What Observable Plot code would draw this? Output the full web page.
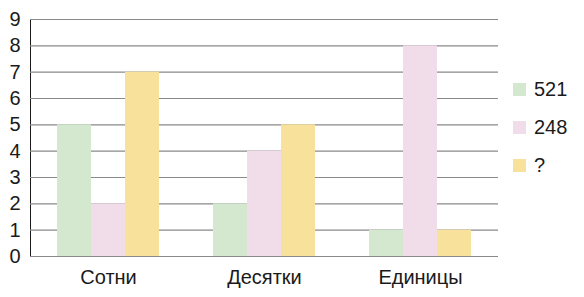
<!DOCTYPE html>
<html>
<head>
<meta charset="utf-8">
<script src="https://cdn.jsdelivr.net/npm/d3@7"></script>
<script src="https://cdn.jsdelivr.net/npm/@observablehq/plot@0.6"></script>
<style>
  html, body { margin: 0; padding: 0; background: #fff; }
  #wrap { position: relative; width: 584px; height: 297px; font-family: "Liberation Sans", Arial, sans-serif; }
  #chart { position: absolute; left: 0; top: 0; }
  #legend { position: absolute; left: 513px; top: 70px; }
  .lg-swatches { margin: 0 !important; font-family: "Liberation Sans", Arial, sans-serif !important; font-size: 20px !important; color: #1a1a1a !important; }
  .lg-swatch { display: flex !important; align-items: center !important; height: 38px !important; margin: 0 !important; padding: 0 !important; }
  .lg-swatch svg { margin-right: 8px !important; }
</style>
</head>
<body>
<div id="wrap"><div id="chart"></div><div id="legend"></div></div>
<script>
const groups = ["Сотни", "Десятки", "Единицы"];
const series = ["521", "248", "?"];
const colors = ["#d4e8cf", "#f1dcea", "#f7e19b"];
const values521 = [5, 2, 1];
const values248 = [2, 4, 8];
const valuesQ = [7, 5, 1];
const yTicks = [0, 1, 2, 3, 4, 5, 6, 7, 8, 9];

const seriesValues = [values521, values248, valuesQ];
const data = [];
groups.forEach((g, gi) => {
  series.forEach((s, si) => {
    data.push({group: g, series: s, value: seriesValues[si][gi]});
  });
});

const chart = Plot.plot({
  width: 505,
  height: 297,
  marginLeft: 29,
  marginRight: 7,
  marginTop: 19,
  marginBottom: 41,
  style: {fontFamily: "Liberation Sans, Arial, sans-serif", fontSize: "20px", color: "#1a1a1a", background: "#fff"},
  fx: {domain: groups, padding: 0, label: null, tickSize: 0, tickPadding: 13},
  x: {domain: series, paddingInner: 0, paddingOuter: 0.75, axis: null},
  y: {domain: [0, 9], ticks: yTicks, tickSize: 0, tickPadding: 10, label: null, line: true},
  color: {domain: series, range: colors},
  marks: [
    Plot.ruleY(yTicks, {stroke: "#8a8a8a", strokeWidth: 1.2}),
    Plot.barY(data, {fx: "group", x: "series", y: "value", fill: "series"})
  ]
});
document.getElementById("chart").appendChild(chart);

const legend = Plot.legend({
  color: {domain: series, range: colors},
  swatchSize: 13,
  columns: 1,
  className: "lg"
});
document.getElementById("legend").appendChild(legend);
</script>
</body>
</html>
